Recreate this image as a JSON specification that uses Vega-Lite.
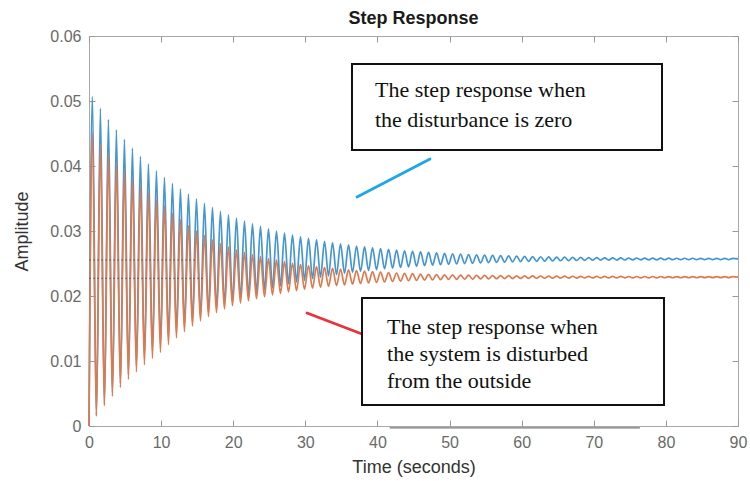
{
"$schema": "https://vega.github.io/schema/vega-lite/v6.json",
"width": 649, "height": 390,
"autosize": {"type": "none"},
"padding": {"left": 89, "top": 36, "right": 12, "bottom": 55},
"background": "white",
"config": {"view": {"stroke": "#a8a8a8", "strokeWidth": 1}, "font": "Liberation Sans"},
"title": {"text": "Step Response", "font": "Liberation Sans", "fontSize": 18, "fontWeight": "bold", "color": "#1a1a1a", "offset": 0, "anchor": "middle"},
"datasets": {
"blue": [{"t":0,"v":0},{"t":0.47,"v":0.0507},{"t":1.025,"v":0.00164},{"t":1.58,"v":0.04886},{"t":2.135,"v":0.00341},{"t":2.69,"v":0.04715},{"t":3.245,"v":0.00506},{"t":3.8,"v":0.04557},{"t":4.355,"v":0.00658},{"t":4.91,"v":0.0441},{"t":5.465,"v":0.00799},{"t":6.02,"v":0.04274},{"t":6.575,"v":0.0093},{"t":7.13,"v":0.04148},{"t":7.685,"v":0.01051},{"t":8.24,"v":0.04032},{"t":8.795,"v":0.01163},{"t":9.35,"v":0.03924},{"t":9.905,"v":0.01267},{"t":10.46,"v":0.03824},{"t":11.015,"v":0.01363},{"t":11.57,"v":0.03732},{"t":12.125,"v":0.01452},{"t":12.68,"v":0.03646},{"t":13.235,"v":0.01535},{"t":13.79,"v":0.03567},{"t":14.345,"v":0.01611},{"t":14.9,"v":0.03493},{"t":15.455,"v":0.01682},{"t":16.01,"v":0.03425},{"t":16.565,"v":0.01747},{"t":17.12,"v":0.03362},{"t":17.675,"v":0.01808},{"t":18.23,"v":0.03303},{"t":18.785,"v":0.01864},{"t":19.34,"v":0.03249},{"t":19.895,"v":0.01916},{"t":20.45,"v":0.03199},{"t":21.005,"v":0.01964},{"t":21.56,"v":0.03153},{"t":22.115,"v":0.02009},{"t":22.67,"v":0.0311},{"t":23.225,"v":0.02051},{"t":23.78,"v":0.0307},{"t":24.335,"v":0.02089},{"t":24.89,"v":0.03033},{"t":25.445,"v":0.02124},{"t":26,"v":0.02999},{"t":26.555,"v":0.02157},{"t":27.11,"v":0.02967},{"t":27.665,"v":0.02188},{"t":28.22,"v":0.02938},{"t":28.775,"v":0.02216},{"t":29.33,"v":0.02911},{"t":29.885,"v":0.02242},{"t":30.44,"v":0.02886},{"t":30.995,"v":0.02266},{"t":31.55,"v":0.02862},{"t":32.105,"v":0.02289},{"t":32.66,"v":0.02841},{"t":33.215,"v":0.02309},{"t":33.77,"v":0.02821},{"t":34.325,"v":0.02329},{"t":34.88,"v":0.02802},{"t":35.435,"v":0.02346},{"t":35.99,"v":0.02785},{"t":36.545,"v":0.02363},{"t":37.1,"v":0.02769},{"t":37.655,"v":0.02378},{"t":38.21,"v":0.02755},{"t":38.765,"v":0.02392},{"t":39.32,"v":0.02741},{"t":39.875,"v":0.02405},{"t":40.43,"v":0.02728},{"t":40.985,"v":0.02418},{"t":41.54,"v":0.02717},{"t":42.095,"v":0.02429},{"t":42.65,"v":0.02706},{"t":43.205,"v":0.02439},{"t":43.76,"v":0.02696},{"t":44.315,"v":0.02449},{"t":44.87,"v":0.02687},{"t":45.425,"v":0.02458},{"t":45.98,"v":0.02678},{"t":46.535,"v":0.02466},{"t":47.09,"v":0.0267},{"t":47.645,"v":0.02474},{"t":48.2,"v":0.02663},{"t":48.755,"v":0.02481},{"t":49.31,"v":0.02656},{"t":49.865,"v":0.02487},{"t":50.42,"v":0.02649},{"t":50.975,"v":0.02494},{"t":51.53,"v":0.02644},{"t":52.085,"v":0.02499},{"t":52.64,"v":0.02638},{"t":53.195,"v":0.02504},{"t":53.75,"v":0.02633},{"t":54.305,"v":0.02509},{"t":54.86,"v":0.02629},{"t":55.415,"v":0.02514},{"t":55.97,"v":0.02624},{"t":56.525,"v":0.02518},{"t":57.08,"v":0.0262},{"t":57.635,"v":0.02522},{"t":58.19,"v":0.02617},{"t":58.745,"v":0.02525},{"t":59.3,"v":0.02613},{"t":59.855,"v":0.02529},{"t":60.41,"v":0.0261},{"t":60.965,"v":0.02532},{"t":61.52,"v":0.02607},{"t":62.075,"v":0.02534},{"t":62.63,"v":0.02604},{"t":63.185,"v":0.02537},{"t":63.74,"v":0.02602},{"t":64.295,"v":0.02539},{"t":64.85,"v":0.02599},{"t":65.405,"v":0.02542},{"t":65.96,"v":0.02597},{"t":66.515,"v":0.02544},{"t":67.07,"v":0.02595},{"t":67.625,"v":0.02546},{"t":68.18,"v":0.02593},{"t":68.735,"v":0.02548},{"t":69.29,"v":0.02591},{"t":69.845,"v":0.0255},{"t":70.4,"v":0.02589},{"t":70.955,"v":0.02551},{"t":71.51,"v":0.02588},{"t":72.065,"v":0.02552},{"t":72.62,"v":0.02587},{"t":73.175,"v":0.02553},{"t":73.73,"v":0.02586},{"t":74.285,"v":0.02554},{"t":74.84,"v":0.02585},{"t":75.395,"v":0.02555},{"t":75.95,"v":0.02585},{"t":76.505,"v":0.02556},{"t":77.06,"v":0.02584},{"t":77.615,"v":0.02556},{"t":78.17,"v":0.02583},{"t":78.725,"v":0.02557},{"t":79.28,"v":0.02583},{"t":79.835,"v":0.02558},{"t":80.39,"v":0.02582},{"t":80.945,"v":0.02559},{"t":81.5,"v":0.02581},{"t":82.055,"v":0.02559},{"t":82.61,"v":0.02581},{"t":83.165,"v":0.02559},{"t":83.72,"v":0.02581},{"t":84.275,"v":0.0256},{"t":84.83,"v":0.0258},{"t":85.385,"v":0.0256},{"t":85.94,"v":0.0258},{"t":86.495,"v":0.0256},{"t":87.05,"v":0.0258},{"t":87.605,"v":0.0256},{"t":88.16,"v":0.0258},{"t":88.715,"v":0.0256},{"t":89.27,"v":0.0258},{"t":90,"v":0.0257}],
"orange": [{"t":0,"v":0},{"t":0.47,"v":0.0451},{"t":1.025,"v":0.00153},{"t":1.58,"v":0.04346},{"t":2.135,"v":0.00311},{"t":2.69,"v":0.04195},{"t":3.245,"v":0.00457},{"t":3.8,"v":0.04054},{"t":4.355,"v":0.00592},{"t":4.91,"v":0.03924},{"t":5.465,"v":0.00718},{"t":6.02,"v":0.03803},{"t":6.575,"v":0.00834},{"t":7.13,"v":0.03691},{"t":7.685,"v":0.00941},{"t":8.24,"v":0.03588},{"t":8.795,"v":0.01041},{"t":9.35,"v":0.03492},{"t":9.905,"v":0.01133},{"t":10.46,"v":0.03386},{"t":11.015,"v":0.01251},{"t":11.57,"v":0.03275},{"t":12.125,"v":0.01357},{"t":12.68,"v":0.03174},{"t":13.235,"v":0.01452},{"t":13.79,"v":0.03084},{"t":14.345,"v":0.01538},{"t":14.9,"v":0.03003},{"t":15.455,"v":0.01615},{"t":16.01,"v":0.0293},{"t":16.565,"v":0.01684},{"t":17.12,"v":0.02865},{"t":17.675,"v":0.01745},{"t":18.23,"v":0.02806},{"t":18.785,"v":0.01801},{"t":19.34,"v":0.02753},{"t":19.895,"v":0.01851},{"t":20.45,"v":0.02709},{"t":21.005,"v":0.0189},{"t":21.56,"v":0.02671},{"t":22.115,"v":0.01926},{"t":22.67,"v":0.02637},{"t":23.225,"v":0.01959},{"t":23.78,"v":0.02606},{"t":24.335,"v":0.01989},{"t":24.89,"v":0.02577},{"t":25.445,"v":0.02016},{"t":26,"v":0.02552},{"t":26.555,"v":0.0204},{"t":27.11,"v":0.02528},{"t":27.665,"v":0.02063},{"t":28.22,"v":0.02507},{"t":28.775,"v":0.02083},{"t":29.33,"v":0.02487},{"t":29.885,"v":0.02102},{"t":30.44,"v":0.02469},{"t":30.995,"v":0.02119},{"t":31.55,"v":0.02453},{"t":32.105,"v":0.02134},{"t":32.66,"v":0.02439},{"t":33.215,"v":0.02148},{"t":33.77,"v":0.02425},{"t":34.325,"v":0.02161},{"t":34.88,"v":0.02413},{"t":35.435,"v":0.02172},{"t":35.99,"v":0.02402},{"t":36.545,"v":0.02183},{"t":37.1,"v":0.02392},{"t":37.655,"v":0.02193},{"t":38.21,"v":0.02383},{"t":38.765,"v":0.02201},{"t":39.32,"v":0.02375},{"t":39.875,"v":0.02209},{"t":40.43,"v":0.02367},{"t":40.985,"v":0.02217},{"t":41.54,"v":0.0236},{"t":42.095,"v":0.02223},{"t":42.65,"v":0.02354},{"t":43.205,"v":0.02229},{"t":43.76,"v":0.02348},{"t":44.315,"v":0.02235},{"t":44.87,"v":0.02343},{"t":45.425,"v":0.0224},{"t":45.98,"v":0.02338},{"t":46.535,"v":0.02244},{"t":47.09,"v":0.02334},{"t":47.645,"v":0.02248},{"t":48.2,"v":0.0233},{"t":48.755,"v":0.02252},{"t":49.31,"v":0.02326},{"t":49.865,"v":0.02255},{"t":50.42,"v":0.02324},{"t":50.975,"v":0.02257},{"t":51.53,"v":0.02322},{"t":52.085,"v":0.02259},{"t":52.64,"v":0.0232},{"t":53.195,"v":0.02261},{"t":53.75,"v":0.02318},{"t":54.305,"v":0.02263},{"t":54.86,"v":0.02317},{"t":55.415,"v":0.02264},{"t":55.97,"v":0.02315},{"t":56.525,"v":0.02266},{"t":57.08,"v":0.02314},{"t":57.635,"v":0.02267},{"t":58.19,"v":0.02312},{"t":58.745,"v":0.02268},{"t":59.3,"v":0.02311},{"t":59.855,"v":0.0227},{"t":60.41,"v":0.0231},{"t":60.965,"v":0.02271},{"t":61.52,"v":0.02309},{"t":62.075,"v":0.02272},{"t":62.63,"v":0.02308},{"t":63.185,"v":0.02273},{"t":63.74,"v":0.02307},{"t":64.295,"v":0.02274},{"t":64.85,"v":0.02306},{"t":65.405,"v":0.02275},{"t":65.96,"v":0.02305},{"t":66.515,"v":0.02275},{"t":67.07,"v":0.02304},{"t":67.625,"v":0.02276},{"t":68.18,"v":0.02303},{"t":68.735,"v":0.02277},{"t":69.29,"v":0.02303},{"t":69.845,"v":0.02278},{"t":70.4,"v":0.02302},{"t":70.955,"v":0.02279},{"t":71.51,"v":0.02301},{"t":72.065,"v":0.02279},{"t":72.62,"v":0.02301},{"t":73.175,"v":0.02279},{"t":73.73,"v":0.02301},{"t":74.285,"v":0.0228},{"t":74.84,"v":0.023},{"t":75.395,"v":0.0228},{"t":75.95,"v":0.023},{"t":76.505,"v":0.0228},{"t":77.06,"v":0.023},{"t":77.615,"v":0.0228},{"t":78.17,"v":0.023},{"t":78.725,"v":0.0228},{"t":79.28,"v":0.023},{"t":79.835,"v":0.02281},{"t":80.39,"v":0.02299},{"t":80.945,"v":0.02281},{"t":81.5,"v":0.02299},{"t":82.055,"v":0.02281},{"t":82.61,"v":0.02299},{"t":83.165,"v":0.02281},{"t":83.72,"v":0.02299},{"t":84.275,"v":0.02281},{"t":84.83,"v":0.02299},{"t":85.385,"v":0.02282},{"t":85.94,"v":0.02298},{"t":86.495,"v":0.02282},{"t":87.05,"v":0.02298},{"t":87.605,"v":0.02282},{"t":88.16,"v":0.02298},{"t":88.715,"v":0.02282},{"t":89.27,"v":0.02298},{"t":90,"v":0.0229}],
"ss": [{"t":0,"t2":14.7,"v":0.02554},{"t":0,"t2":15.8,"v":0.02272}],
"base": [{"t":41.7,"t2":76.4,"v":-0.0003}],
"ann": [{"t":37.17,"v":0.03523,"t2":47.29,"v2":0.04108,"s":"zero"},{"t":30.23,"v":0.01738,"t2":37.86,"v2":0.01415,"s":"disturbed"}],
"boxes": [{"t":36.47,"t2":79.46,"v":0.05569,"v2":0.04246,"s":"zero"},{"t":37.86,"t2":79.74,"v":0.01969,"v2":0.00323,"s":"disturbed"}],
"notes": [{"t":39.66,"v":0.05062,"txt":"The step response when\nthe disturbance is zero","s":"zero"},{"t":41.33,"v":0.01415,"txt":"The step response when\nthe system is disturbed\nfrom the outside","s":"disturbed"}]
},
"resolve": {"axis": {"x": "independent", "y": "independent"}},
"layer": [
{"data": {"name": "blue"}, "mark": {"type": "line", "color": "#4596d0", "strokeWidth": 1.7, "interpolate": "monotone"},
 "encoding": {
  "x": {"field": "t", "type": "quantitative", "scale": {"domain": [0, 90], "nice": false}, "axis": {"title": "Time (seconds)", "values": [0,10,20,30,40,50,60,70,80,90], "labelFlush": false, "grid": false, "domain": false, "tickSize": -6, "tickColor": "#999", "labelPadding": 14, "labelFontSize": 16, "labelColor": "#6a6a6a", "labelFont": "Liberation Sans", "titleFont": "Liberation Sans", "titleFontSize": 18, "titleFontWeight": "normal", "titleColor": "#333", "titlePadding": 8}},
  "y": {"field": "v", "type": "quantitative", "scale": {"domain": [0, 0.06], "nice": false}, "axis": {"title": "Amplitude", "values": [0,0.01,0.02,0.03,0.04,0.05,0.06], "labelFlush": false, "labelExpr": "datum.value == 0 ? '0' : format(datum.value, '.2f')", "grid": false, "domain": false, "tickSize": -6, "tickColor": "#999", "labelPadding": 14, "labelFontSize": 16, "labelColor": "#6a6a6a", "labelFont": "Liberation Sans", "titleFont": "Liberation Sans", "titleFontSize": 18, "titleFontWeight": "normal", "titleColor": "#333", "titlePadding": 18}}
 }},
{"data": {"name": "orange"}, "mark": {"type": "line", "color": "#de7a4e", "strokeWidth": 1.7, "interpolate": "monotone"},
 "encoding": {
  "x": {"field": "t", "type": "quantitative", "scale": {"domain": [0, 90], "nice": false}, "axis": null},
  "y": {"field": "v", "type": "quantitative", "scale": {"domain": [0, 0.06], "nice": false}, "axis": null}
 }},
{"data": {"name": "ss"}, "mark": {"type": "rule", "color": "#555", "strokeWidth": 1, "strokeDash": [2, 2], "opacity": 0.8},
 "encoding": {
  "x": {"field": "t", "type": "quantitative", "scale": {"domain": [0, 90], "nice": false}, "axis": {"orient": "top", "title": null, "labels": false, "values": [0,10,20,30,40,50,60,70,80,90], "grid": false, "domain": false, "tickSize": -6, "tickColor": "#999"}},
  "x2": {"field": "t2"},
  "y": {"field": "v", "type": "quantitative", "scale": {"domain": [0, 0.06], "nice": false}, "axis": {"orient": "right", "title": null, "labels": false, "values": [0,0.01,0.02,0.03,0.04,0.05,0.06], "grid": false, "domain": false, "tickSize": -6, "tickColor": "#999"}}
 }},
{"data": {"name": "base"}, "mark": {"type": "rule", "color": "#777", "strokeWidth": 1.3},
 "encoding": {
  "x": {"field": "t", "type": "quantitative", "scale": {"domain": [0, 90], "nice": false}, "axis": null},
  "x2": {"field": "t2"},
  "y": {"field": "v", "type": "quantitative", "scale": {"domain": [0, 0.06], "nice": false}, "axis": null}
 }},
{"data": {"name": "ann"}, "mark": {"type": "rule", "strokeWidth": 2.8, "strokeCap": "round"},
 "encoding": {
  "x": {"field": "t", "type": "quantitative", "scale": {"domain": [0, 90], "nice": false}, "axis": null},
  "x2": {"field": "t2"},
  "y": {"field": "v", "type": "quantitative", "scale": {"domain": [0, 0.06], "nice": false}, "axis": null},
  "y2": {"field": "v2"},
  "color": {"field": "s", "type": "nominal", "scale": {"domain": ["zero", "disturbed"], "range": ["#1ea7e8", "#e8323c"]}, "legend": null}
 }},
{"data": {"name": "boxes"}, "mark": {"type": "rect", "fill": "white", "stroke": "#111", "strokeWidth": 2},
 "encoding": {
  "x": {"field": "t", "type": "quantitative", "scale": {"domain": [0, 90], "nice": false}, "axis": null},
  "x2": {"field": "t2"},
  "y": {"field": "v", "type": "quantitative", "scale": {"domain": [0, 0.06], "nice": false}, "axis": null},
  "y2": {"field": "v2"}
 }},
{"data": {"name": "notes"}, "transform": [{"filter": "datum.s == 'zero'"}], "mark": {"type": "text", "font": "Liberation Serif", "fontSize": 22, "color": "#111", "align": "left", "baseline": "alphabetic", "lineBreak": "\n", "lineHeight": 30},
 "encoding": {
  "x": {"field": "t", "type": "quantitative", "scale": {"domain": [0, 90], "nice": false}, "axis": null},
  "y": {"field": "v", "type": "quantitative", "scale": {"domain": [0, 0.06], "nice": false}, "axis": null},
  "text": {"field": "txt"}
 }},
{"data": {"name": "notes"}, "transform": [{"filter": "datum.s == 'disturbed'"}], "mark": {"type": "text", "font": "Liberation Serif", "fontSize": 22, "color": "#111", "align": "left", "baseline": "alphabetic", "lineBreak": "\n", "lineHeight": 27},
 "encoding": {
  "x": {"field": "t", "type": "quantitative", "scale": {"domain": [0, 90], "nice": false}, "axis": null},
  "y": {"field": "v", "type": "quantitative", "scale": {"domain": [0, 0.06], "nice": false}, "axis": null},
  "text": {"field": "txt"}
 }}
]
}
